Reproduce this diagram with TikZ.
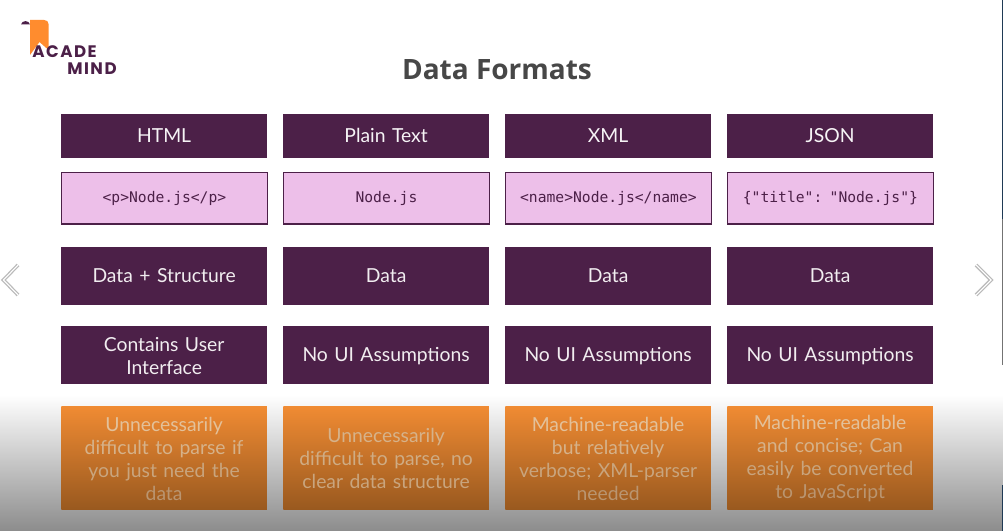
\documentclass[tikz,border=0pt]{standalone}
\usepackage{fontspec}
\setmainfont{Lato}
\newfontfamily\codefont{DejaVu Sans Mono}
\newfontfamily\logofont[LetterSpace=9]{Poppins}
\newfontfamily\titlefont{Open Sans}
\newcommand\linebal{\rule[-3.2pt]{0pt}{15.6pt}}
\newcommand\codebal{\rule[-2pt]{0pt}{10pt}}
\newcommand\toppad{\rule{0pt}{12.2pt}}
\definecolor{plum}{HTML}{4C2048}
\definecolor{pinkbox}{HTML}{EDBFE9}
\definecolor{orangetop}{HTML}{F08B33}
\definecolor{orangebot}{HTML}{99591F}
\definecolor{logoorange}{HTML}{FF8C2E}
\definecolor{edgenavy}{HTML}{1F3A55}
\tikzset{
 x=0.75pt,y=-0.75pt,
 cell/.style={minimum width=154.25pt,anchor=north west,inner sep=0pt,align=center,text width=150pt},
 head/.style={cell,fill=plum,text=white!95!plum,minimum height=33pt,font=\fontsize{14.5}{17}\selectfont},
 code/.style={cell,fill=pinkbox,draw=plum,line width=0.9pt,text=plum,minimum height=38.5pt,font=\codefont\fontsize{11}{13}\selectfont},
 dark/.style={cell,fill=plum,text=white!92!plum,minimum height=43.5pt,font=\fontsize{14.5}{17.2}\selectfont},
 note/.style={cell,top color=orangetop,bottom color=orangebot,minimum height=77.25pt,font=\fontsize{14.5}{17.2}\selectfont},
 chevout/.style={draw=black!27,line width=2.7pt,line join=miter},
 chevin/.style={draw=white,line width=0.8pt,line join=miter},
 logotext/.style={font=\logofont\bfseries\fontsize{12.5}{13}\selectfont,text=plum,inner sep=0pt,anchor=west},
}
\begin{document}
\begin{tikzpicture}
\useasboundingbox (0,0) rectangle (1003,531);
\fill[white] (0,0) rectangle (1003,395);
\shade[top color=white,bottom color=black!45] (0,395) rectangle (1003,531);
% right edge stripe
\fill[edgenavy] (1002,0) rectangle (1003,219);
\fill[black!55] (1002,219) rectangle (1003,365);
\fill[edgenavy] (1002,485) rectangle (1003,531);
% logo
\fill[logoorange] (30,20) -- (44,20) .. controls (47,20) and (48.5,21.5) .. (48.5,24) -- (48.5,50) -- (39.5,42) -- (30,55) -- cycle;
\fill[plum] (21,24.5) .. controls (22,20) and (29,20) .. (30,24.5) -- cycle;
\node[logotext] (acade) at (32,51.5) {ACADE};
\node[logotext] (mind) at (67,69) {MIND};
% title
\node[font=\titlefont\bfseries\fontsize{21}{24}\selectfont,text=black!72,inner sep=0pt] (title) at (497,70) {Data Formats};
% row 1
\node[head] (h1) at (61,114) {\linebal HTML};
\node[head] (h2) at (283,114) {\linebal Plain Text};
\node[head] (h3) at (505,114) {\linebal XML};
\node[head] (h4) at (727,114) {\linebal JSON};
% row 2
\node[code] (c1) at (61,172) {\codebal <p>Node.js</p>};
\node[code] (c2) at (283,172) {\codebal Node.js};
\node[code] (c3) at (505,172) {\codebal <name>Node.js</name>};
\node[code] (c4) at (727,172) {\codebal \{"title": "Node.js"\}};
% row 3
\node[dark] (d1) at (61,247) {\linebal Data + Structure};
\node[dark] (d2) at (283,247) {\linebal Data};
\node[dark] (d3) at (505,247) {\linebal Data};
\node[dark] (d4) at (727,247) {\linebal Data};
% row 4
\node[dark] (u1) at (61,326) {\toppad Contains User\\Interface};
\node[dark] (u2) at (283,326) {\linebal No UI Assumptions};
\node[dark] (u3) at (505,326) {\linebal No UI Assumptions};
\node[dark] (u4) at (727,326) {\linebal No UI Assumptions};
% row 5
\node[note] (n1) at (61,406) {\toppad\textcolor[HTML]{E3C19A}{Unnecessarily}\\\textcolor[HTML]{D6B28A}{difficult to parse if}\\\textcolor[HTML]{C9A57E}{you just need the}\\\textcolor[HTML]{BA9570}{data}};
\node[note] (n2) at (283,406) {\toppad\textcolor[HTML]{D6B28A}{Unnecessarily}\\\textcolor[HTML]{CFAC84}{difficult to parse, no}\\\textcolor[HTML]{C9A57E}{clear data structure}};
\node[note] (n3) at (505,406) {\toppad\textcolor[HTML]{E3C19A}{Machine-readable}\\\textcolor[HTML]{D6B28A}{but relatively}\\\textcolor[HTML]{C9A57E}{verbose; XML-parser}\\\textcolor[HTML]{BA9570}{needed}};
\node[note] (n4) at (727,406) {\toppad\textcolor[HTML]{E3C19A}{Machine-readable}\\\textcolor[HTML]{D6B28A}{and concise; Can}\\\textcolor[HTML]{C9A57E}{easily be converted}\\\textcolor[HTML]{BA9570}{to JavaScript}};
% chevrons
\draw[chevout] (18,265) -- (3.5,280) -- (18,295);
\draw[chevin] (18,265) -- (3.5,280) -- (18,295);
\draw[chevout] (976,265) -- (991,280) -- (976,295);
\draw[chevin] (976,265) -- (991,280) -- (976,295);
\end{tikzpicture}
\end{document}
